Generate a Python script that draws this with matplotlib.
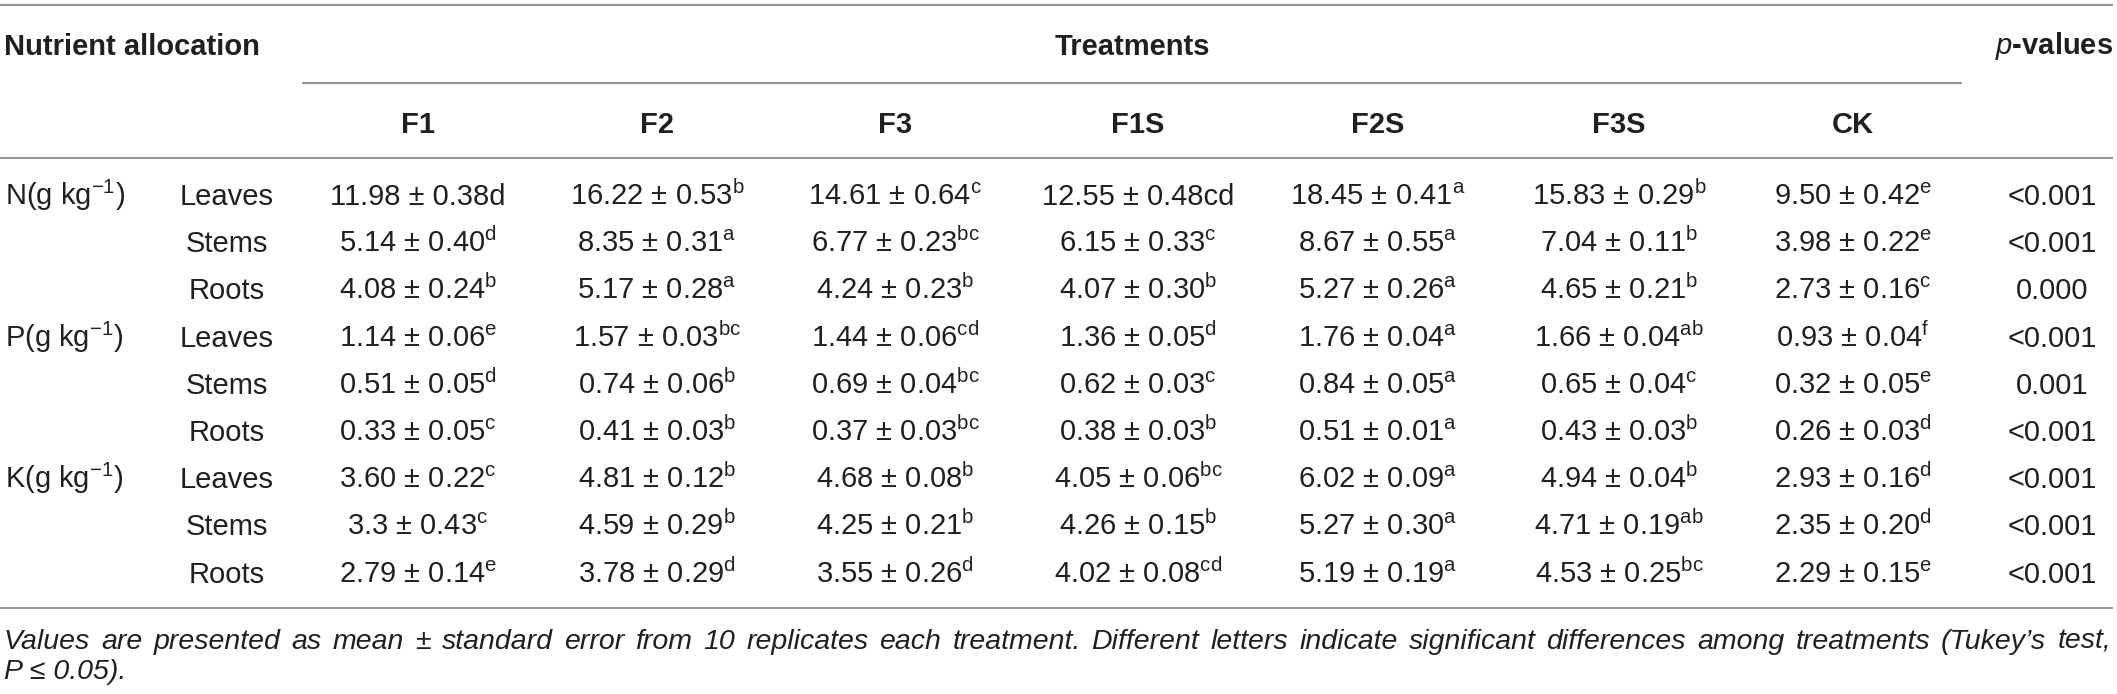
import matplotlib
matplotlib.use("Agg")
import matplotlib.pyplot as plt

plt.rcParams['font.family'] = ['Liberation Sans', 'DejaVu Sans']
plt.rcParams['mathtext.fontset'] = 'custom'
plt.rcParams['mathtext.rm'] = 'Liberation Sans'
plt.rcParams['mathtext.it'] = 'Liberation Sans:italic'
plt.rcParams['mathtext.bf'] = 'Liberation Sans:bold'

# ---------------- data ----------------
treatments = ["F1", "F2", "F3", "F1S", "F2S", "F3S", "CK"]
nutrients = ["N", "P", "K"]
organs = ["Leaves", "Stems", "Roots"]

means = [
    ["11.98", "16.22", "14.61", "12.55", "18.45", "15.83", "9.50"],
    ["5.14", "8.35", "6.77", "6.15", "8.67", "7.04", "3.98"],
    ["4.08", "5.17", "4.24", "4.07", "5.27", "4.65", "2.73"],
    ["1.14", "1.57", "1.44", "1.36", "1.76", "1.66", "0.93"],
    ["0.51", "0.74", "0.69", "0.62", "0.84", "0.65", "0.32"],
    ["0.33", "0.41", "0.37", "0.38", "0.51", "0.43", "0.26"],
    ["3.60", "4.81", "4.68", "4.05", "6.02", "4.94", "2.93"],
    ["3.3", "4.59", "4.25", "4.26", "5.27", "4.71", "2.35"],
    ["2.79", "3.78", "3.55", "4.02", "5.19", "4.53", "2.29"],
]
ses = [
    ["0.38", "0.53", "0.64", "0.48", "0.41", "0.29", "0.42"],
    ["0.40", "0.31", "0.23", "0.33", "0.55", "0.11", "0.22"],
    ["0.24", "0.28", "0.23", "0.30", "0.26", "0.21", "0.16"],
    ["0.06", "0.03", "0.06", "0.05", "0.04", "0.04", "0.04"],
    ["0.05", "0.06", "0.04", "0.03", "0.05", "0.04", "0.05"],
    ["0.05", "0.03", "0.03", "0.03", "0.01", "0.03", "0.03"],
    ["0.22", "0.12", "0.08", "0.06", "0.09", "0.04", "0.16"],
    ["0.43", "0.29", "0.21", "0.15", "0.30", "0.19", "0.20"],
    ["0.14", "0.29", "0.26", "0.08", "0.19", "0.25", "0.15"],
]
letters = [
    ["d", "b", "c", "cd", "a", "b", "e"],
    ["d", "a", "bc", "c", "a", "b", "e"],
    ["b", "a", "b", "b", "a", "b", "c"],
    ["e", "bc", "cd", "d", "a", "ab", "f"],
    ["d", "b", "bc", "c", "a", "c", "e"],
    ["c", "b", "bc", "b", "a", "b", "d"],
    ["c", "b", "b", "bc", "a", "b", "d"],
    ["c", "b", "b", "b", "a", "ab", "d"],
    ["e", "d", "d", "cd", "a", "bc", "e"],
]
# letters printed inline (not superscript) in the original
inline_letters = [(0, 0), (0, 3)]
pvalues = ["<0.001", "<0.001", "0.000", "<0.001", "0.001",
           "<0.001", "<0.001", "<0.001", "<0.001"]

footnote1 = ("Values are presented as mean \u00b1 standard error from 10 replicates each "
             "treatment. Different letters indicate significant differences among "
             "treatments (Tukey\u2019s test,")
footnote2 = "P \u2264 0.05)."

# ---------------- layout ----------------
W, H = 2117, 694
fig = plt.figure(figsize=(W / 100, H / 100), dpi=100)
ax = fig.add_axes([0, 0, 1, 1])
ax.set_xlim(0, W)
ax.set_ylim(H, 0)
ax.axis("off")

txt = "#231f20"
linec = "#8a8a8a"
fs = 21
fs_note = 20.5

col_x = [418, 657, 895, 1138, 1378, 1619, 1853]
p_x = 2052
organ_x = 227
unit_x = 5
row_y0, row_dy = 195, 47.2
x_right = 2113

# horizontal rules
for y, x0, x1 in [(5, 0, x_right), (83, 302, 1962), (158, 0, x_right), (608, 0, x_right)]:
    ax.plot([x0, x1], [y, y], color=linec, lw=1.3, solid_capstyle="butt")

# header texts
ax.text(4, 55, "Nutrient allocation", fontsize=fs, fontweight="bold",
        color=txt, ha="left", va="baseline")
ax.text((302 + 1962) / 2, 55, "Treatments", fontsize=fs, fontweight="bold",
        color=txt, ha="center", va="baseline")
ax.text(x_right, 54, r"$\mathit{p}$-values", fontsize=fs, fontweight="bold",
        color=txt, ha="right", va="baseline")
for x, t in zip(col_x, treatments):
    ax.text(x, 133, t, fontsize=fs, fontweight="bold", color=txt,
            ha="center", va="baseline")

# body
for i in range(len(means)):
    yb = row_y0 + i * row_dy + 10
    if i % 3 == 0:
        ax.text(unit_x, yb, nutrients[i // 3] + r"(g kg$^{-1}$)", fontsize=fs,
                color=txt, ha="left", va="baseline")
    ax.text(organ_x, yb, organs[i % 3], fontsize=fs, color=txt,
            ha="center", va="baseline")
    for j, x in enumerate(col_x):
        if (i, j) in inline_letters:
            s = f"{means[i][j]} \u00b1 {ses[i][j]}{letters[i][j]}"
        else:
            s = f"{means[i][j]} \u00b1 {ses[i][j]}" + r"$^{\mathrm{" + letters[i][j] + r"}}$"
        ax.text(x, yb, s, fontsize=fs, color=txt, ha="center", va="baseline")
    ax.text(p_x, yb, pvalues[i], fontsize=fs, color=txt, ha="center", va="baseline")

# footnote: first line justified to the table width
renderer = fig.canvas.get_renderer()
words = footnote1.split(" ")
arts = [ax.text(0, 649, w, fontsize=fs_note, style="italic", color=txt,
                ha="left", va="baseline") for w in words]
widths = []
inv = ax.transData.inverted()
for a in arts:
    bb = a.get_window_extent(renderer)
    x0 = inv.transform((bb.x0, bb.y0))[0]
    x1 = inv.transform((bb.x1, bb.y0))[0]
    widths.append(x1 - x0)
x_left = 4
gap = (x_right - 2 - x_left - sum(widths)) / (len(words) - 1)
xpos = x_left
for a, w in zip(arts, widths):
    a.set_x(xpos)
    xpos += w + gap
ax.text(x_left, 679, footnote2, fontsize=fs_note, style="italic", color=txt,
        ha="left", va="baseline")

fig.savefig("out.png", dpi=100)
